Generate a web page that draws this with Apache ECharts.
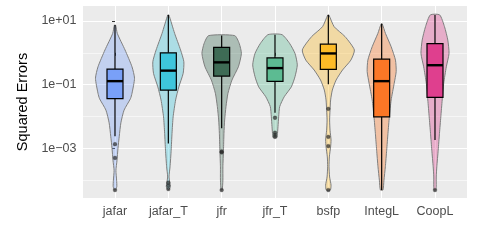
<!DOCTYPE html>
<html><head><meta charset="utf-8">
<script src="https://cdn.jsdelivr.net/npm/echarts@6/dist/echarts.min.js"></script>
<style>html,body{margin:0;padding:0;background:#fff}#c{width:488px;height:244px}</style>
</head><body><div id="c"></div>
<script>
// All y values are log10(Squared Error)
const categories = ['jafar', 'jafar_T', 'jfr', 'jfr_T', 'bsfp', 'IntegL', 'CoopL'];
const boxColors = ['#79A0F8', '#3EC6DC', '#3E6B55', '#5CBB92', '#FDBB27', '#FC7726', '#DF3F8E'];
const whiskerLow  = [-2.62, -2.85, -2.37, -1.88, -0.99, -4.31, -2.74];
const quartile1   = [-1.44, -1.17, -0.73, -0.90, -0.52, -2.01, -1.40];
const medians     = [-0.89, -0.56, -0.30, -0.48, -0.02, -0.89, -0.39];
const quartile3   = [-0.51,  0.00,  0.17, -0.16,  0.27, -0.20,  0.29];
const whiskerHigh = [ 0.87,  1.19,  0.54,  0.57,  1.19,  0.91,  1.19];
const outliers = [
  [-2.87, -3.30, -4.31],
  [-4.08, -4.17, -4.28],
  [-3.10, -3.13, -4.31],
  [-2.04, -2.51, -2.58, -2.64],
  [-1.76, -2.64, -2.93, -4.31],
  [],
  [-4.31]
];
// violin profiles: [log10 value, half width as fraction of category spacing]
const violinProfiles = [
  [[0.87,0.012],[0.61,0.043],[0.09,0.188],[-0.44,0.319],[-0.80,0.366],[-1.27,0.319],[-1.44,0.29],[-1.80,0.17],[-2.20,0.11],[-2.62,0.08],[-3.00,0.056],[-3.39,0.037],[-3.69,0.017],[-4.00,0.03],[-4.20,0.034],[-4.31,0.01]],
  [[1.19,0.01],[0.61,0.118],[0.09,0.229],[-0.28,0.291],[-0.645,0.278],[-1.07,0.197],[-1.48,0.137],[-2.01,0.090],[-2.53,0.069],[-3.06,0.053],[-3.58,0.032],[-3.90,0.013],[-4.21,0.038],[-4.29,0.01]],
  [[0.54,0.244],[0.30,0.328],[-0.02,0.370],[-0.44,0.313],[-0.855,0.193],[-1.27,0.118],[-1.69,0.081],[-2.11,0.056],[-2.53,0.043],[-3.06,0.034],[-3.58,0.023],[-4.00,0.023],[-4.31,0.01]],
  [[0.57,0.131],[0.30,0.272],[-0.02,0.375],[-0.38,0.418],[-0.75,0.375],[-1.07,0.306],[-1.38,0.173],[-1.69,0.088],[-2.01,0.069],[-2.32,0.056],[-2.53,0.047],[-2.66,0.038]],
  [[1.19,0.01],[0.82,0.109],[0.51,0.313],[0.09,0.488],[-0.23,0.422],[-0.54,0.266],[-0.855,0.146],[-1.17,0.075],[-1.48,0.043],[-1.80,0.032],[-2.11,0.024],[-2.43,0.032],[-2.74,0.051],[-2.95,0.043],[-3.27,0.019],[-3.58,0.013],[-3.90,0.024],[-4.16,0.051],[-4.31,0.038]],
  [[0.91,0.01],[0.61,0.071],[0.19,0.178],[-0.23,0.259],[-0.59,0.272],[-0.96,0.235],[-1.48,0.178],[-2.01,0.144],[-2.53,0.118],[-3.06,0.094],[-3.58,0.069],[-4.00,0.043],[-4.31,0.024]],
  [[1.19,0.088],[0.82,0.178],[0.40,0.240],[-0.02,0.263],[-0.44,0.212],[-0.96,0.163],[-1.48,0.135],[-2.01,0.109],[-2.53,0.084],[-3.06,0.060],[-3.58,0.034],[-3.90,0.023],[-4.21,0.023],[-4.31,0.015]]
];
const yLabelTicks = [-3, -1, 1];
const yMinorTicks = [-4, -2, 0];
const xTicks = categories.map((c, i) => i);

function fmtExp(v) {
  const e = Math.round(v);
  return '1e' + (e < 0 ? '\u2212' : '+') + String(Math.abs(e)).padStart(2, '0');
}
function hexA(hex, a) {
  const r = parseInt(hex.slice(1,3),16), g = parseInt(hex.slice(3,5),16), b = parseInt(hex.slice(5,7),16);
  return 'rgba(' + r + ',' + g + ',' + b + ',' + a + ')';
}

const chart = echarts.init(document.getElementById('c'), null, {renderer: 'canvas'});
const axisFont = {color: '#4D4D4D', fontSize: 12.5, fontFamily: 'Liberation Sans, Arial, sans-serif'};

chart.setOption({
  animation: false,
  grid: {left: 83, right: 21, top: 6, bottom: 46, containLabel: false, show: true, backgroundColor: '#EBEBEB', borderWidth: 0},
  xAxis: {
    type: 'value', min: -0.6, max: 6.6,
    axisLine: {show: false},
    axisTick: {show: true, length: 3, lineStyle: {color: '#333333', width: 1}, customValues: xTicks},
    axisLabel: Object.assign({margin: 7, customValues: xTicks, formatter: v => categories[Math.round(v)]}, axisFont),
    splitLine: {show: true, lineStyle: {color: '#FFFFFF', width: 1.1}}
  },
  yAxis: [{
    type: 'value', min: -4.56, max: 1.47,
    name: 'Squared Errors', nameLocation: 'middle', nameGap: 41,
    nameTextStyle: {color: '#000000', fontSize: 14.5, fontFamily: 'Liberation Sans, Arial, sans-serif'},
    axisLine: {show: false},
    axisTick: {show: true, length: 3, lineStyle: {color: '#333333', width: 1}, customValues: yLabelTicks},
    axisLabel: Object.assign({margin: 6.5, customValues: yLabelTicks, formatter: fmtExp}, axisFont),
    splitLine: {show: true, lineStyle: {color: '#FFFFFF', width: 1.1}}
  }, {
    type: 'value', min: -4.56, max: 1.47, position: 'left',
    axisLine: {show: false},
    axisTick: {show: false, customValues: yMinorTicks},
    axisLabel: {show: false, customValues: yMinorTicks},
    splitLine: {show: true, lineStyle: {color: '#FFFFFF', width: 0.55}}
  }],
  series: [{
    type: 'custom',
    yAxisIndex: 0,
    data: categories.map((c, i) => [i]),
    renderItem: function (params, api) {
      const i = api.value(0);
      const bw = api.size([1, 0])[0];
      const cx = api.coord([i, 0])[0];
      const Y = v => api.coord([i, v])[1];
      const prof = violinProfiles[i];
      const right = prof.map(p => [cx + p[1] * bw, Y(p[0])]);
      const left = prof.slice().reverse().map(p => [cx - p[1] * bw, Y(p[0])]);
      const col = boxColors[i];
      const bh = 0.15 * bw;
      const children = [];
      children.push({
        type: 'polygon', shape: {points: right.concat(left), smooth: 0.2},
        style: {fill: hexA(col, 0.36), stroke: '#7F7F7F', lineWidth: 1, lineJoin: 'round'}
      });
      children.push({type: 'line', shape: {x1: cx, y1: Y(whiskerHigh[i]), x2: cx, y2: Y(quartile3[i])}, style: {stroke: '#000', lineWidth: 1.2}});
      children.push({type: 'line', shape: {x1: cx, y1: Y(quartile1[i]), x2: cx, y2: Y(whiskerLow[i])}, style: {stroke: '#000', lineWidth: 1.2}});
      const yq3 = Y(quartile3[i]), yq1 = Y(quartile1[i]);
      children.push({type: 'rect', shape: {x: cx - bh, y: yq3, width: 2 * bh, height: yq1 - yq3}, style: {fill: col, stroke: '#000', lineWidth: 1.2}});
      children.push({type: 'line', shape: {x1: cx - bh, y1: Y(medians[i]), x2: cx + bh, y2: Y(medians[i])}, style: {stroke: '#000', lineWidth: 2.4}});
      outliers[i].forEach(o => {
        children.push({type: 'circle', shape: {cx: cx, cy: Y(o), r: 1.9}, style: {fill: 'rgba(40,40,40,0.7)', stroke: 'rgba(40,40,40,0.5)', lineWidth: 0.5}});
      });
      return {type: 'group', children: children};
    }
  }]
});
</script></body></html>
